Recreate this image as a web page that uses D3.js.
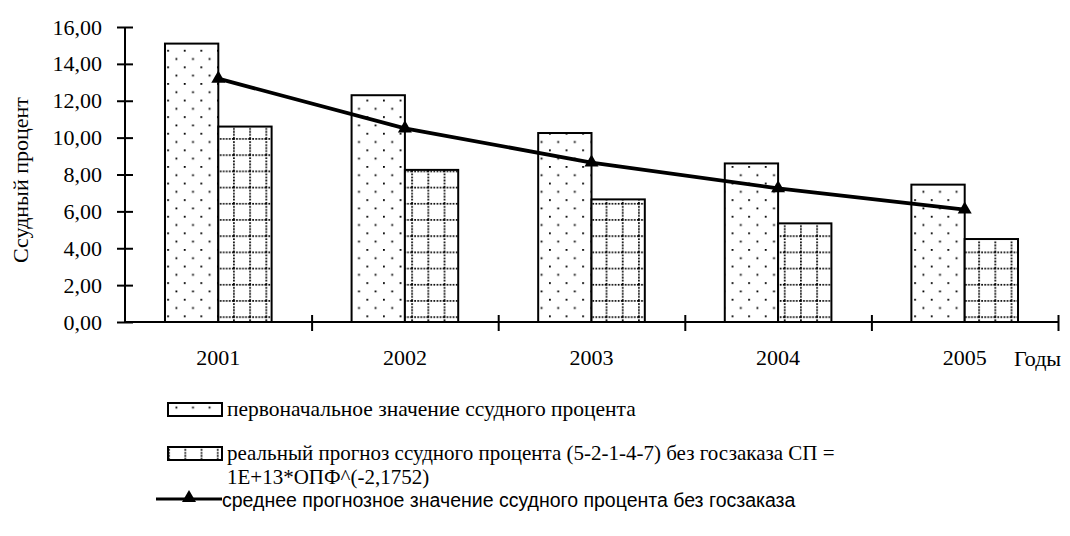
<!DOCTYPE html>
<html>
<head>
<meta charset="utf-8">
<script src="https://cdn.jsdelivr.net/npm/d3@7"></script>
<style>
  body { margin: 0; background: #fff; }
  svg text { font-family: "Liberation Serif", "Times New Roman", "DejaVu Serif", serif; fill: #000; }
  svg text.sans { font-family: "Liberation Sans", Arial, sans-serif; }
</style>
</head>
<body>
<div id="chart"></div>
<script>
const years = ["2001", "2002", "2003", "2004", "2005"];
const initialRate = [15.1, 12.3, 10.25, 8.6, 7.45];
const realForecast = [10.6, 8.25, 6.65, 5.35, 4.5];
const avgForecast = [13.2, 10.5, 8.65, 7.25, 6.1];
const yTicks = [0, 2, 4, 6, 8, 10, 12, 14, 16];
const seriesNames = [
  "первоначальное значение ссудного процента",
  "реальный прогноз ссудного процента (5-2-1-4-7) без госзаказа СП =",
  "среднее прогнозное значение ссудного процента без госзаказа"
];
const formulaLine = "1E+13*ОПФ^(-2,1752)";

const svg = d3.select("#chart").append("svg").attr("width", 1070).attr("height", 536);

// patterns
const defs = svg.append("defs");
const dots = defs.append("pattern").attr("id", "dots").attr("patternUnits", "userSpaceOnUse")
  .attr("width", 16.6).attr("height", 16.6).attr("x", 1.2).attr("y", 0);
dots.append("rect").attr("width", 16.6).attr("height", 16.6).attr("fill", "#fff");
dots.append("rect").attr("x", 0).attr("y", 0).attr("width", 1.8).attr("height", 1.8).attr("fill", "#000");
dots.append("rect").attr("x", 8.3).attr("y", 8.3).attr("width", 1.8).attr("height", 1.8).attr("fill", "#000");

const grid = defs.append("pattern").attr("id", "grid").attr("patternUnits", "userSpaceOnUse")
  .attr("width", 16.2).attr("height", 16.2).attr("x", 6.2).attr("y", 8.5);
grid.append("rect").attr("width", 16.2).attr("height", 16.2).attr("fill", "#fff");
grid.append("line").attr("x1", 0).attr("x2", 16.2).attr("y1", 0.9).attr("y2", 0.9)
  .attr("stroke", "#000").attr("stroke-width", 1.7).attr("stroke-dasharray", "1.7,1.35");
grid.append("line").attr("x1", 0.9).attr("x2", 0.9).attr("y1", 0).attr("y2", 16.2)
  .attr("stroke", "#000").attr("stroke-width", 1.7).attr("stroke-dasharray", "1.7,1.35");

const plotLeft = 125, plotRight = 1058, plotTop = 27, plotBottom = 322;

const x = d3.scaleBand().domain(years).range([plotLeft, plotRight]).paddingInner(0).paddingOuter(0);
const xEdge = d3.scaleLinear().domain([0, years.length]).range([plotLeft, plotRight]);
const xs = d3.scaleBand().domain(["a", "b"]).range([0, x.bandwidth()]).paddingInner(0).paddingOuter(0.75);
const y = d3.scaleLinear().domain([0, 16]).range([plotBottom, plotTop]);

// bars
const g = svg.append("g");
g.selectAll("rect.b1").data(years).enter().append("rect").attr("class", "b1")
  .attr("x", (d) => x(d) + xs("a"))
  .attr("y", (d, i) => y(initialRate[i]))
  .attr("width", xs.bandwidth())
  .attr("height", (d, i) => plotBottom - y(initialRate[i]))
  .attr("fill", "url(#dots)").attr("stroke", "#000").attr("stroke-width", 2);

g.selectAll("rect.b2").data(years).enter().append("rect").attr("class", "b2")
  .attr("x", (d) => x(d) + xs("b"))
  .attr("y", (d, i) => y(realForecast[i]))
  .attr("width", xs.bandwidth())
  .attr("height", (d, i) => plotBottom - y(realForecast[i]))
  .attr("fill", "url(#grid)").attr("stroke", "#000").attr("stroke-width", 2);

// y axis
const yAxis = svg.append("g").attr("transform", `translate(${plotLeft},0)`)
  .call(d3.axisLeft(y).tickValues(yTicks).tickSize(8).tickPadding(15)
    .tickFormat((d) => d3.format(".2f")(d).replace(".", ",")));
yAxis.attr("font-family", null).attr("font-size", null);
yAxis.select(".domain").attr("stroke-width", 2).attr("d", `M0,${plotTop}V${plotBottom}`);
yAxis.selectAll(".tick line").attr("x1", 8).attr("stroke-width", 2);
yAxis.selectAll(".tick text").style("font-size", "22px");

// x axis: boundary ticks
const xAxis = svg.append("g").attr("transform", `translate(0,${plotBottom})`)
  .call(d3.axisBottom(xEdge).tickValues(d3.range(years.length + 1)).tickSize(9).tickFormat(""));
xAxis.select(".domain").attr("stroke-width", 2).attr("d", `M${plotLeft},0H${plotRight}`);
xAxis.selectAll(".tick line").attr("y1", -7).attr("stroke-width", 2)
  .filter((d) => d === 0).remove();

// x axis labels
const xLab = svg.append("g").attr("transform", `translate(0,${plotBottom})`)
  .call(d3.axisBottom(x).tickSize(0).tickPadding(27));
xLab.attr("font-family", null).attr("font-size", null);
xLab.select(".domain").remove();
xLab.selectAll(".tick text").style("font-size", "22px");

svg.append("text").attr("x", 1014).attr("y", 366).style("font-size", "22px").text("Годы");

svg.append("text").attr("transform", "translate(28,180) rotate(-90)")
  .attr("text-anchor", "middle").style("font-size", "22px").text("Ссудный процент");

// average line
const line = d3.line().x((d, i) => x(years[i]) + x.bandwidth() / 2).y((d) => y(d));
svg.append("path").datum(avgForecast).attr("d", line)
  .attr("fill", "none").attr("stroke", "#000").attr("stroke-width", 3.8);
const tri = d3.symbol().type(d3.symbolTriangle).size(85);
svg.selectAll("path.mk").data(avgForecast).enter().append("path").attr("class", "mk")
  .attr("d", tri)
  .attr("transform", (d, i) => `translate(${x(years[i]) + x.bandwidth() / 2},${y(d)})`)
  .attr("fill", "#000");

// legend
const lg = svg.append("g");
lg.append("rect").attr("x", 168).attr("y", 403).attr("width", 54).attr("height", 13)
  .attr("fill", "url(#dots)").attr("stroke", "#000").attr("stroke-width", 2);
lg.append("text").attr("x", 227).attr("y", 416).style("font-size", "21.5px").text(seriesNames[0]);

lg.append("rect").attr("x", 168).attr("y", 447).attr("width", 54).attr("height", 13)
  .attr("fill", "url(#grid)").attr("stroke", "#000").attr("stroke-width", 2);
lg.append("text").attr("x", 227).attr("y", 460).style("font-size", "21px").text(seriesNames[1]);
lg.append("text").attr("x", 227).attr("y", 484).style("font-size", "21px").text(formulaLine);

lg.append("line").attr("x1", 156).attr("x2", 222).attr("y1", 499).attr("y2", 499)
  .attr("stroke", "#000").attr("stroke-width", 3);
lg.append("path").attr("d", tri).attr("transform", "translate(189,498)").attr("fill", "#000");
lg.append("text").attr("class", "sans").attr("x", 222).attr("y", 506.5)
  .style("font-size", "19.5px").text(seriesNames[2]);
</script>
</body>
</html>
